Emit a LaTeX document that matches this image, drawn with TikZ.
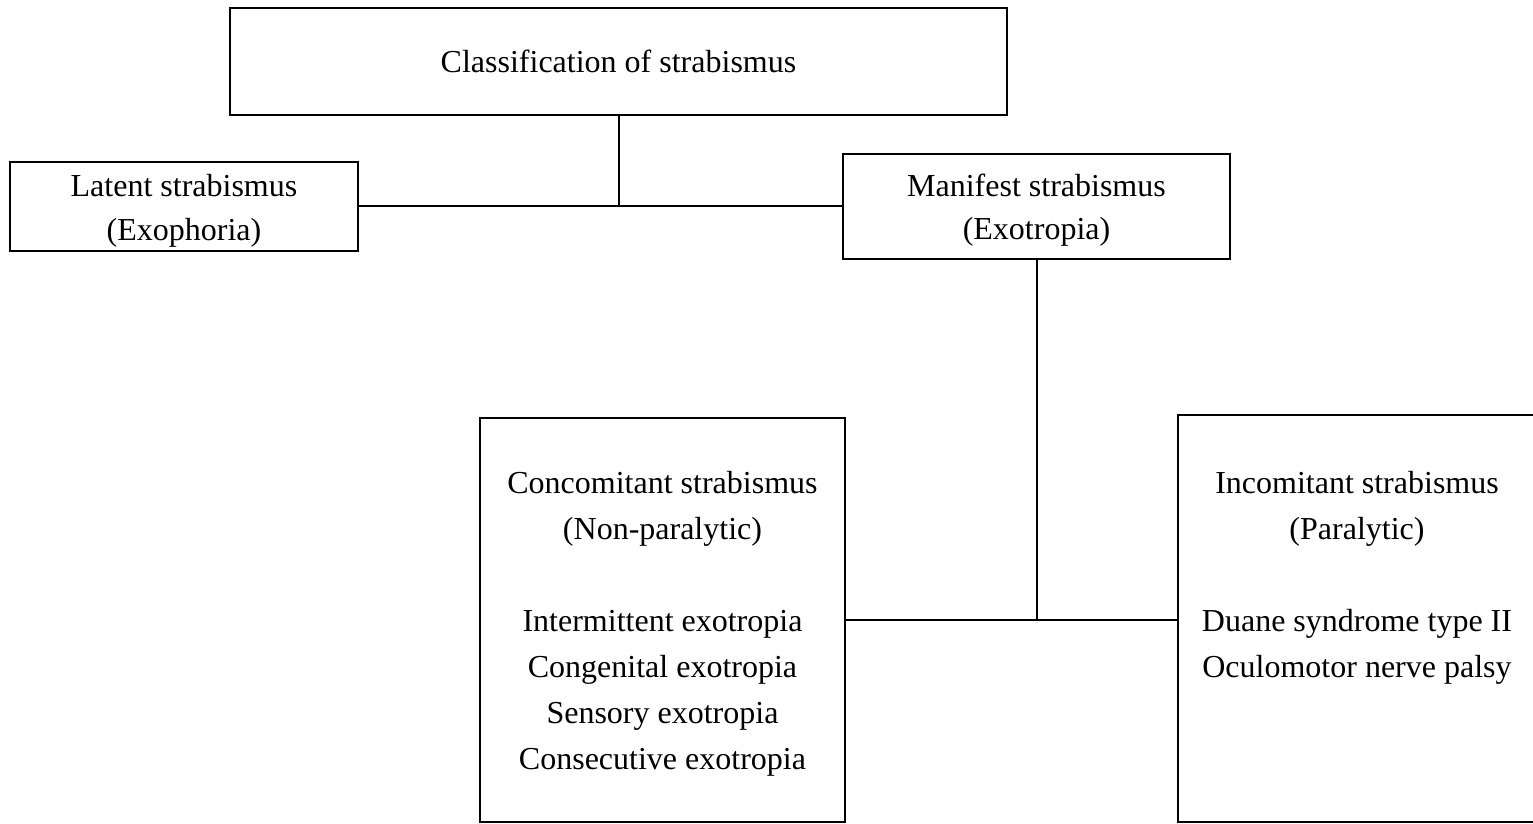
\documentclass[tikz,border=0pt]{standalone}
\usepackage{fontspec}
\setmainfont{Liberation Serif}
\begin{document}
\begin{tikzpicture}[x=0.5pt,y=-0.5pt,
  box/.style={draw, line width=1pt, inner sep=0pt},
  txt/.style={inner sep=0pt, align=center, font=\fontsize{16}{23}\selectfont},
  stxt/.style={inner sep=0pt, align=center, font=\fontsize{16}{21.75}\selectfont},
  conn/.style={line width=1pt}]
\useasboundingbox (0,0) rectangle (1533,824);
\begin{scope}
\clip (0,0) rectangle (1533,824);
\node[box, minimum width=388.5pt, minimum height=53.5pt] (top) at (618.5,61.5) {};
\node[stxt] (toptext) at (618.5,61.5) {Classification of strabismus};
\node[box, minimum width=174pt, minimum height=44.5pt] (lat) at (184,206.5) {};
\node[stxt] (lattext) at (184,211) {Latent strabismus\\(Exophoria)};
\node[box, minimum width=193.5pt, minimum height=52pt] (man) at (1036.5,206.5) {};
\node[stxt] (mantext) at (1036.5,210) {Manifest strabismus\\(Exotropia)};
\node[box, minimum width=182.5pt, minimum height=202pt] (conc) at (662.5,620) {};
\node[txt] (conctext) at (662.5,624) {Concomitant strabismus\\(Non-paralytic)\\[23pt]Intermittent exotropia\\Congenital exotropia\\Sensory exotropia\\Consecutive exotropia};
\node[box, minimum width=180pt, minimum height=203.5pt] (inc) at (1358,618.5) {};
\node[txt] (inctext) at (1357,578) {Incomitant strabismus\\(Paralytic)\\[23pt]Duane syndrome type II\\Oculomotor nerve palsy};
\draw[conn] (lat.east) -- (lat.east -| man.west);
\draw[conn] (top.south) -- (top.south |- lat.east);
\draw[conn] (conc.east) -- (conc.east -| inc.west);
\draw[conn] (man.south) -- (man.south |- conc.east);
\end{scope}
\end{tikzpicture}
\end{document}
